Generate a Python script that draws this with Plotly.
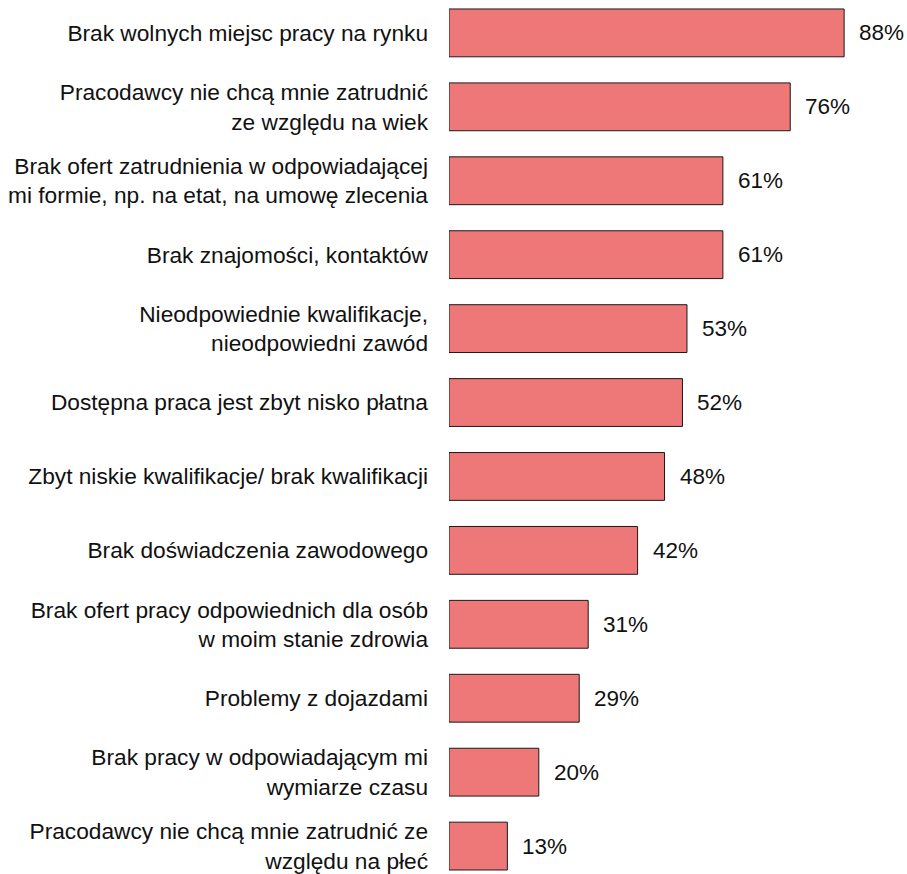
import plotly.graph_objects as go

# Reasons given for difficulty finding work (share of respondents, %)
categories = [
    "Brak wolnych miejsc pracy na rynku",
    "Pracodawcy nie chcą mnie zatrudnić<br>ze względu na wiek",
    "Brak ofert zatrudnienia w odpowiadającej<br>mi formie, np. na etat, na umowę zlecenia",
    "Brak znajomości, kontaktów",
    "Nieodpowiednie kwalifikacje,<br>nieodpowiedni zawód",
    "Dostępna praca jest zbyt nisko płatna",
    "Zbyt niskie kwalifikacje/ brak kwalifikacji",
    "Brak doświadczenia zawodowego",
    "Brak ofert pracy odpowiednich dla osób<br>w moim stanie zdrowia",
    "Problemy z dojazdami",
    "Brak pracy w odpowiadającym mi<br>wymiarze czasu",
    "Pracodawcy nie chcą mnie zatrudnić ze<br>względu na płeć",
]
values = [88, 76, 61, 61, 53, 52, 48, 42, 31, 29, 20, 13]

FONT = "Liberation Sans, Arial, sans-serif"

fig = go.Figure(
    go.Bar(
        x=values,
        y=categories,
        orientation="h",
        marker=dict(color="#EE7777", line=dict(color="#1a1a1a", width=1)),
        hoverinfo="skip",
    )
)

# percentage labels just past the end of each bar
for cat, val in zip(categories, values):
    fig.add_annotation(
        x=val, y=cat, text=f"{val}%",
        xanchor="left", yanchor="middle", xshift=13,
        showarrow=False,
        font=dict(family=FONT, size=22.5, color="#111111"),
    )

fig.update_layout(
    width=907, height=874,
    margin=dict(l=449, r=9, t=0, b=0),
    paper_bgcolor="white", plot_bgcolor="white",
    bargap=0.353,
    showlegend=False,
    font=dict(family=FONT, size=22, color="#111111"),
)
fig.update_xaxes(range=[0, 100], visible=False, fixedrange=True)
fig.update_yaxes(
    type="category",
    range=[11.337, -0.445],
    showgrid=False, zeroline=False, showline=False,
    ticks="", ticklabelstandoff=20,
    tickfont=dict(family=FONT, size=22.7, color="#111111"),
    fixedrange=True,
)

fig.write_html("out.html")
